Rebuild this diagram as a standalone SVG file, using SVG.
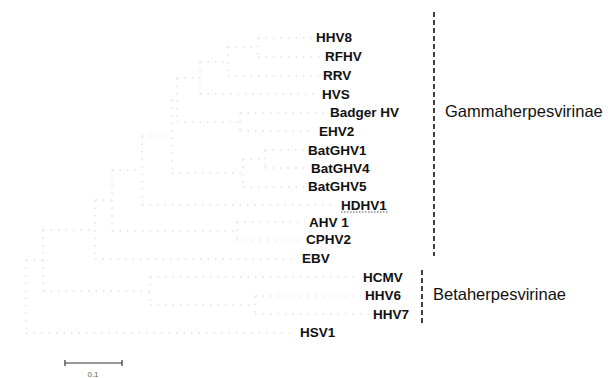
<svg xmlns="http://www.w3.org/2000/svg" width="608" height="378" viewBox="0 0 608 378">
<style>
.lbl{font-family:"Liberation Sans",Arial,sans-serif;font-size:13.5px;font-weight:bold;fill:#111}
.grp{font-family:"Liberation Sans",Arial,sans-serif;font-size:16.5px;fill:#111}
.br{fill:none;stroke:#d4d4d4;stroke-width:1;stroke-dasharray:1.5 6}
.brack{fill:none;stroke:#111;stroke-width:1.6;stroke-dasharray:5 3}
</style>
<rect width="608" height="378" fill="#fff"/>
<g id="connectors">
<path class="br" d="M258 38V57M258 38H312M258 57H321"/>
<path class="br" d="M228 47V76M228 47H258M228 76H319"/>
<path class="br" d="M200 62V94M200 62H228M200 94H318"/>
<path class="br" d="M240 113V131M240 113H326M240 131H315"/>
<path class="br" d="M177 78V122M177 78H200M177 122H240"/>
<path class="br" d="M265 150V168M265 150H304M265 168H307"/>
<path class="br" d="M243 159V187M243 159H265M243 187H304"/>
<path class="br" d="M172 100V173M172 100H177M172 173H243"/>
<path class="br" d="M142 136V205M142 136H172M142 205H337"/>
<path class="br" d="M237 222V240M237 222H305M237 240H302"/>
<path class="br" d="M112 170V231M112 170H142M112 231H237"/>
<path class="br" d="M95 200V259M95 200H112M95 259H298"/>
<path class="br" d="M255 296V314M255 296H361M255 314H369"/>
<path class="br" d="M150 277V305M150 277H359M150 305H255"/>
<path class="br" d="M43 230V291M43 230H95M43 291H150"/>
<path class="br" d="M26 260V333M26 260H43M26 333H296"/>
<path d="M341 212H388" stroke="#555" stroke-width="1" stroke-dasharray="1.5 1.5"/>
</g>
<g id="leaf-HHV8"><text class="lbl" x="316" y="42">HHV8</text></g>
<g id="leaf-RFHV"><text class="lbl" x="325" y="61">RFHV</text></g>
<g id="leaf-RRV"><text class="lbl" x="323" y="80">RRV</text></g>
<g id="leaf-HVS"><text class="lbl" x="322" y="99">HVS</text></g>
<g id="leaf-BadgerHV"><text class="lbl" x="330" y="117">Badger HV</text></g>
<g id="leaf-EHV2"><text class="lbl" x="319" y="136">EHV2</text></g>
<g id="leaf-BatGHV1"><text class="lbl" x="308" y="155">BatGHV1</text></g>
<g id="leaf-BatGHV4"><text class="lbl" x="311" y="173">BatGHV4</text></g>
<g id="leaf-BatGHV5"><text class="lbl" x="308" y="191">BatGHV5</text></g>
<g id="leaf-HDHV1"><text class="lbl" x="341" y="210">HDHV1</text></g>
<g id="leaf-AHV1"><text class="lbl" x="309" y="227">AHV 1</text></g>
<g id="leaf-CPHV2"><text class="lbl" x="306" y="244">CPHV2</text></g>
<g id="leaf-EBV"><text class="lbl" x="302" y="263">EBV</text></g>
<g id="leaf-HCMV"><text class="lbl" x="363" y="282">HCMV</text></g>
<g id="leaf-HHV6"><text class="lbl" x="365" y="300">HHV6</text></g>
<g id="leaf-HHV7"><text class="lbl" x="373" y="319">HHV7</text></g>
<g id="leaf-HSV1"><text class="lbl" x="300" y="337">HSV1</text></g>
<g id="clade-gamma">
<path class="brack" d="M434 12V256"/>
<text class="grp" x="445" y="117">Gammaherpesvirinae</text>
</g>
<g id="clade-beta">
<path class="brack" d="M422 270V326"/>
<text class="grp" x="433" y="300">Betaherpesvirinae</text>
</g>
<g id="scalebar">
<path d="M65 363H122M65 360V366M122 360V366" stroke="#333" stroke-width="1.2" fill="none"/>
<text x="93" y="377" text-anchor="middle" font-family="Liberation Sans, Arial, sans-serif" font-size="8" fill="#666">0.1</text>
</g>
</svg>
